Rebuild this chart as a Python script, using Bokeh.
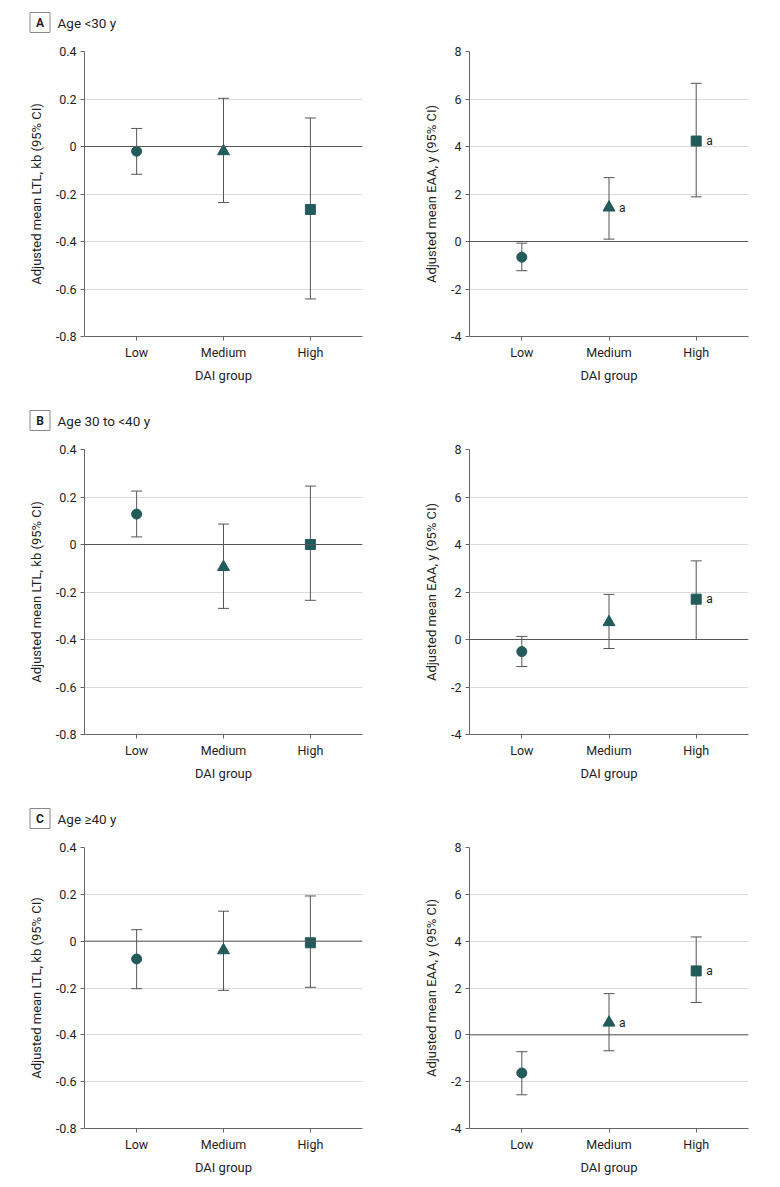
from bokeh.plotting import figure
from bokeh.layouts import column, row
from bokeh.models import Range1d, FixedTicker, Span, ColumnDataSource
from bokeh.core.properties import value
from bokeh.embed import file_html
from bokeh.resources import INLINE

# ---------------- data ----------------
groups = ["Low", "Medium", "High"]
group_pos = [1, 2, 3]
markers = ["circle", "triangle", "square"]

ltl_ticks = [-0.8, -0.6, -0.4, -0.2, 0, 0.2, 0.4]
ltl_tick_labels = ["-0.8", "-0.6", "-0.4", "-0.2", "0", "0.2", "0.4"]
eaa_ticks = [-4, -2, 0, 2, 4, 6, 8]
eaa_tick_labels = ["-4", "-2", "0", "2", "4", "6", "8"]

# Panel A: Age <30 y
ltl_a_mean = [-0.020, -0.020, -0.265]
ltl_a_lo = [-0.117, -0.236, -0.642]
ltl_a_hi = [0.076, 0.203, 0.120]
eaa_a_mean = [-0.66, 1.43, 4.23]
eaa_a_lo = [-1.23, 0.10, 1.88]
eaa_a_hi = [-0.07, 2.69, 6.66]
eaa_a_sig = ["", "a", "a"]

# Panel B: Age 30 to <40 y
ltl_b_mean = [0.128, -0.095, 0.000]
ltl_b_lo = [0.032, -0.269, -0.235]
ltl_b_hi = [0.225, 0.086, 0.246]
eaa_b_mean = [-0.51, 0.73, 1.70]
eaa_b_lo = [-1.14, -0.38, 0.00]
eaa_b_hi = [0.13, 1.90, 3.31]
eaa_b_sig = ["", "", "a"]

# Panel C: Age >=40 y
ltl_c_mean = [-0.076, -0.039, -0.007]
ltl_c_lo = [-0.203, -0.210, -0.197]
ltl_c_hi = [0.049, 0.128, 0.193]
eaa_c_mean = [-1.63, 0.52, 2.73]
eaa_c_lo = [-2.56, -0.68, 1.38]
eaa_c_hi = [-0.72, 1.76, 4.18]
eaa_c_sig = ["", "a", "a"]

panel_letters = ["A", "B", "C"]
panel_titles = ["Age <30 y", "Age 30 to <40 y", "Age \u226540 y"]
ltl_title = "Adjusted mean LTL, kb (95% CI)"
eaa_title = "Adjusted mean EAA, y (95% CI)"
x_title = "DAI group"

# ---------------- style ----------------
FONT = "Roboto"
MARK = "#235a5a"
BAR = "#555555"
AXIS = "#666666"
GRID = "#dadada"
TXT = "#1e1e1e"

X0, X1 = 0.4, 3.6
HEAD_H = 36
TOP = 15
FRAME_H = 285
TOTAL_W = 768


def header(letter, caption):
    h = figure(width=TOTAL_W, height=HEAD_H, x_range=Range1d(0, TOTAL_W),
               y_range=Range1d(0, HEAD_H), output_backend="svg", toolbar_location=None,
               min_border=0)
    h.xaxis.visible = False
    h.yaxis.visible = False
    h.grid.grid_line_color = None
    h.outline_line_color = None
    h.background_fill_color = "white"
    h.border_fill_color = "white"
    cy = HEAD_H - 22
    h.scatter(x=[39.5], y=[cy], marker="square", size=20, fill_color="white",
              line_color="#888888", line_width=1)
    h.text(x=[39.5], y=[cy], text=[letter], text_align="center", text_baseline="middle",
           text_font=value(FONT), text_font_size="12px", text_font_style="bold",
           text_color=TXT)
    h.text(x=[57], y=[cy], text=[caption], text_align="left", text_baseline="middle",
           text_font=value(FONT), text_font_size="13.5px", text_color=TXT)
    return h


def panel(mean, lo, hi, ticks, tick_labels, ytitle, width, bl, br, height, bb, sig=None):
    y0, y1 = ticks[0], ticks[-1]
    p = figure(width=width, height=height, x_range=Range1d(X0, X1),
               y_range=Range1d(y0, y1), output_backend="svg",
               toolbar_location=None, min_border_left=bl, min_border_right=br,
               min_border_top=TOP, min_border_bottom=bb)
    p.outline_line_color = None
    p.background_fill_color = "white"
    p.border_fill_color = "white"
    p.xgrid.grid_line_color = None
    p.ygrid.grid_line_color = GRID
    p.ygrid.grid_line_width = 1

    p.xaxis.ticker = FixedTicker(ticks=group_pos)
    p.xaxis.major_label_overrides = {g: n for g, n in zip(group_pos, groups)}
    p.yaxis.ticker = FixedTicker(ticks=ticks)
    p.yaxis.major_label_overrides = {t: l for t, l in zip(ticks, tick_labels)}

    for ax in (p.xaxis, p.yaxis):
        ax.axis_line_color = AXIS
        ax.major_tick_line_color = AXIS
        ax.major_tick_out = 4
        ax.major_tick_in = 0
        ax.minor_tick_line_color = None
        ax.major_label_text_font = FONT
        ax.major_label_text_font_size = "12.5px"
        ax.major_label_text_color = TXT
        ax.axis_label_text_font = FONT
        ax.axis_label_text_font_size = "13px"
        ax.axis_label_text_font_style = "normal"
        ax.axis_label_text_color = TXT
        ax.major_label_standoff = 4
    p.xaxis.axis_label = x_title
    p.xaxis.axis_label_standoff = 5
    p.yaxis.axis_label = ytitle
    p.yaxis.axis_label_standoff = 9

    p.add_layout(Span(location=0, dimension="width", line_color=BAR, line_width=1))

    src = ColumnDataSource(dict(x=group_pos, m=mean, lo=lo, hi=hi,
                                s=sig if sig else [""] * 3))
    p.segment(x0="x", y0="lo", x1="x", y1="hi", source=src, line_color=BAR, line_width=1)
    p.scatter(x="x", y="hi", marker="dash", size=11, source=src, line_color=BAR, line_width=1)
    p.scatter(x="x", y="lo", marker="dash", size=11, source=src, line_color=BAR, line_width=1)
    sizes = {"circle": 10, "triangle": 12, "square": 10}
    for i, mk in enumerate(markers):
        p.scatter(x=[group_pos[i]], y=[mean[i]], marker=mk, size=sizes[mk],
                  fill_color=MARK, line_color=MARK)
    if sig:
        p.text(x="x", y="m", text="s", source=src, x_offset=10,
               text_baseline="middle", text_align="left", text_font_size="12px",
               text_color=TXT, text_font=value(FONT))
    return p


blocks = []
data = [
    (ltl_a_mean, ltl_a_lo, ltl_a_hi, eaa_a_mean, eaa_a_lo, eaa_a_hi, eaa_a_sig),
    (ltl_b_mean, ltl_b_lo, ltl_b_hi, eaa_b_mean, eaa_b_lo, eaa_b_hi, eaa_b_sig),
    (ltl_c_mean, ltl_c_lo, ltl_c_hi, eaa_c_mean, eaa_c_lo, eaa_c_hi, eaa_c_sig),
]
for i, (lm, ll, lh, em, el, eh, es) in enumerate(data):
    bb = 62 if i < 2 else 45
    h = TOP + FRAME_H + bb
    left = panel(lm, ll, lh, ltl_ticks, ltl_tick_labels, ltl_title, 397, 84, 35, h, bb)
    right = panel(em, el, eh, eaa_ticks, eaa_tick_labels, eaa_title, 371, 72, 20, h, bb,
                  sig=es)
    blocks.append(header(panel_letters[i], panel_titles[i]))
    blocks.append(row(left, right))

layout = column(*blocks)
open("out.html", "w").write(file_html(layout, INLINE))
